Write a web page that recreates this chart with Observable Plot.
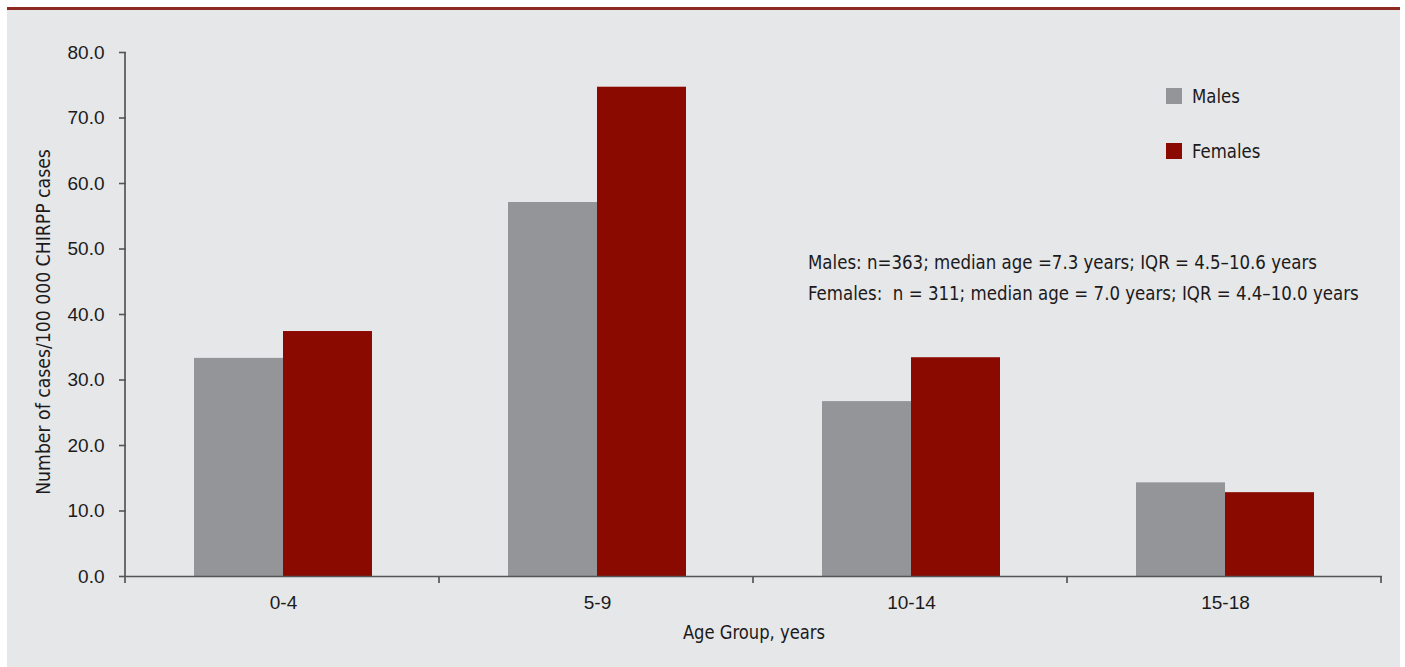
<!DOCTYPE html>
<html>
<head>
<meta charset="utf-8">
<script src="https://cdn.jsdelivr.net/npm/d3@7"></script>
<script src="https://cdn.jsdelivr.net/npm/@observablehq/plot@0.6"></script>
<style>
  html, body { margin: 0; padding: 0; background: #ffffff; }
  #wrap { position: relative; width: 1405px; height: 667px; overflow: hidden; }
  #panel { position: absolute; left: 7px; top: 10px; width: 1393px; height: 657px; background: #e6e7e9; }
  #topline { position: absolute; left: 7px; top: 7px; width: 1393px; height: 3px; background: #8f2a22; }
  #chart { position: absolute; left: 0; top: 0; }
  .txt { position: absolute; font-family: "DejaVu Sans Condensed", sans-serif; color: #1c1a1b; white-space: pre; }
  #ylabel { left: 43px; top: 322px; font-size: 20px; transform: translate(-50%, -50%) rotate(-90deg) scaleX(0.96); }
  #xlabel { left: 754px; top: 632px; font-size: 20px; transform: translate(-50%, -50%) scaleX(0.91); }
  #legend { position: absolute; left: 1166px; top: 84px; }
  .li { display: flex; align-items: center; height: 24px; margin-bottom: 31px; font-family: "DejaVu Sans Condensed", sans-serif; font-size: 20px; color: #1c1a1b; }
  .li span { display: inline-block; transform: scaleX(0.92); transform-origin: left center; }
  .sw { width: 16px; height: 16px; margin-right: 10px; }
  #note { left: 808px; top: 247px; font-size: 20px; line-height: 31px; transform: scaleX(0.924); transform-origin: left top; }
</style>
</head>
<body>
<div id="wrap">
  <div id="panel"></div>
  <div id="topline"></div>
  <div id="chart"></div>
  <div id="ylabel" class="txt"></div>
  <div id="xlabel" class="txt"></div>
  <div id="legend"></div>
  <div id="note" class="txt"></div>
</div>
<script>
const ageGroups = ["0-4", "5-9", "10-14", "15-18"];
const sexes = ["Males", "Females"];
const males = [33.3, 57.1, 26.7, 14.3];
const females = [37.4, 74.7, 33.4, 12.8];
const yTicks = [0, 10, 20, 30, 40, 50, 60, 70, 80];
const seriesColors = ["#939598", "#8b0a00"];
const yTitle = "Number of cases/100 000 CHIRPP cases";
const xTitle = "Age Group, years";
const notes = [
  "Males: n=363; median age =7.3 years; IQR = 4.5–10.6 years",
  "Females:  n = 311; median age = 7.0 years; IQR = 4.4–10.0 years"
];

const data = ageGroups.flatMap((a, i) => [
  {age: a, sex: sexes[0], value: males[i]},
  {age: a, sex: sexes[1], value: females[i]}
]);

const chart = Plot.plot({
  width: 1405,
  height: 667,
  marginLeft: 125,
  marginRight: 22,
  marginTop: 52,
  marginBottom: 91,
  style: {background: "transparent", fontFamily: "'Liberation Sans', sans-serif", color: "#1c1a1b", overflow: "visible"},
  fx: {domain: ageGroups, padding: 0, label: null},
  x: {domain: sexes, paddingInner: 0, paddingOuter: 0.747, axis: null},
  y: {domain: [0, 80], label: null},
  color: {domain: sexes, range: seriesColors},
  marks: [
    Plot.axisY({ticks: yTicks, tickFormat: d3.format(".1f"), tickSize: 7, tickPadding: 15, label: null, fontSize: 19, stroke: "#555", strokeWidth: 1.6}),
    Plot.axisFx({anchor: "bottom", tickSize: 0, tickPadding: 19, label: null, fontSize: 19, fontFamily: "'Liberation Sans', sans-serif"}),
    Plot.barY(data, {fx: "age", x: "sex", y: "value", fill: "sex"}),
    Plot.ruleY([0], {stroke: "#555", strokeWidth: 1.7})
  ]
});
document.getElementById("chart").appendChild(chart);

// axis line and category boundary ticks, from the plot's own scales
const fx = chart.scale("fx");
const y = chart.scale("y");
const svg = d3.select(chart);
const y0 = y.range[0], y1 = y.range[1];
const x0 = fx.range[0];
svg.append("line").attr("x1", x0).attr("x2", x0).attr("y1", y1).attr("y2", y0)
  .attr("stroke", "#555").attr("stroke-width", 1.7);
for (let i = 0; i <= ageGroups.length; i++) {
  const bx = fx.range[0] + i * fx.step;
  svg.append("line").attr("x1", bx).attr("x2", bx).attr("y1", y0).attr("y2", y0 + 7)
    .attr("stroke", "#555").attr("stroke-width", 1.7);
}

document.getElementById("ylabel").textContent = yTitle;
document.getElementById("xlabel").textContent = xTitle;
const lg = d3.select("#legend");
sexes.forEach((s, i) => {
  const row = lg.append("div").attr("class", "li");
  row.append("div").attr("class", "sw").style("background", seriesColors[i]);
  row.append("span").text(s);
});
const nt = d3.select("#note");
notes.forEach(n => nt.append("div").text(n));
</script>
</body>
</html>
